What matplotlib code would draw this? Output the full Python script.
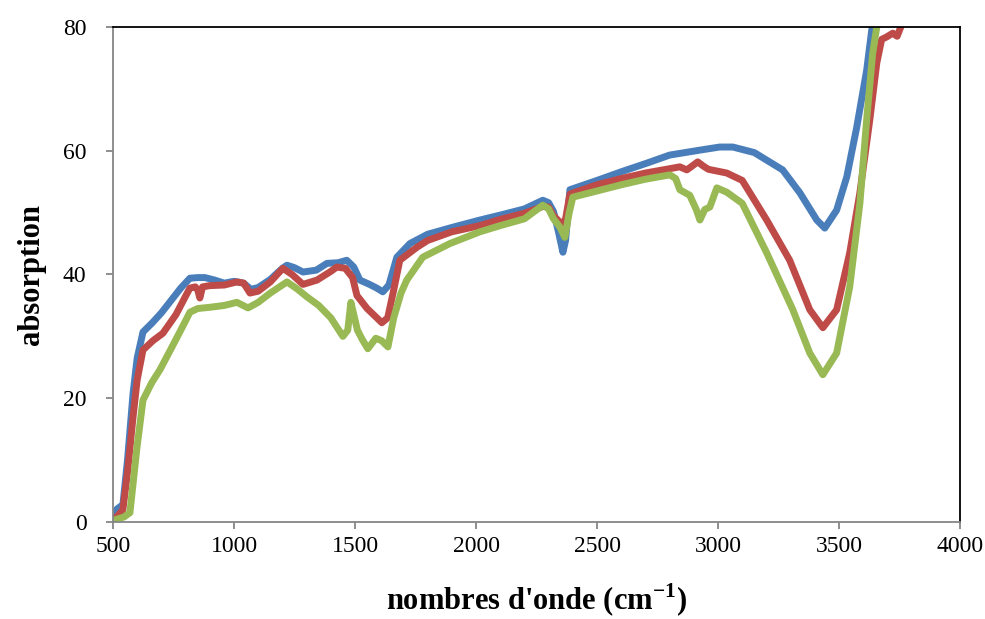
import numpy as np
import matplotlib
matplotlib.use("Agg")
from matplotlib import pyplot as plt

plt.rcParams['font.family'] = ['Liberation Serif', 'DejaVu Serif']
plt.rcParams['mathtext.fontset'] = 'custom'
plt.rcParams['mathtext.rm'] = 'Liberation Serif'
plt.rcParams['mathtext.bf'] = 'Liberation Serif:bold'

# wavenumber (cm-1) / absorption
x_blue = [500, 520, 541, 560, 583, 600, 624, 665, 700, 740, 780, 818, 850, 880, 920,
          960, 1000, 1040, 1070, 1100, 1150, 1200, 1219, 1250, 1285, 1340, 1384, 1430,
          1466, 1495, 1520, 1560, 1590, 1615, 1640, 1673, 1727, 1800, 1900, 2016, 2100,
          2200, 2276, 2300, 2320, 2340, 2359, 2370, 2388, 2500, 2600, 2706, 2800, 2925,
          3007, 3061, 3150, 3267, 3338, 3408, 3441, 3490, 3532, 3573, 3614, 3635, 3650]
y_blue = [1.5, 2.2, 2.8, 10.0, 20.8, 26.5, 30.7, 32.3, 33.8, 35.8, 37.8, 39.4, 39.5, 39.5, 39.1,
          38.6, 38.9, 38.6, 37.6, 37.9, 39.2, 41.0, 41.5, 41.1, 40.4, 40.7, 41.8, 41.9,
          42.3, 41.2, 39.1, 38.4, 37.8, 37.2, 38.3, 42.8, 45.0, 46.5, 47.6, 48.8, 49.6,
          50.6, 52.0, 51.6, 50.2, 47.0, 43.6, 45.5, 53.7, 55.2, 56.6, 58.0, 59.3, 60.1,
          60.6, 60.6, 59.7, 56.9, 53.2, 48.8, 47.5, 50.4, 55.8, 63.8, 73.0, 79.5, 82.0]

x_red = [500, 520, 541, 560, 583, 600, 624, 665, 706, 760, 800, 818, 840, 850, 859,
         870, 900, 960, 1012, 1040, 1066, 1100, 1150, 1202, 1240, 1285, 1343, 1400,
         1425, 1460, 1490, 1508, 1550, 1590, 1611, 1635, 1660, 1685, 1756, 1800, 1900,
         2016, 2100, 2200, 2276, 2300, 2320, 2338, 2355, 2370, 2388, 2500, 2600, 2700,
         2800, 2842, 2871, 2916, 2940, 2960, 3036, 3100, 3201, 3296, 3379, 3433, 3490,
         3544, 3586, 3627, 3656, 3676, 3697, 3722, 3740, 3760]
y_red = [0.5, 1.0, 2.0, 8.0, 17.0, 23.0, 27.8, 29.3, 30.5, 33.5, 36.5, 37.8, 38.0, 37.5, 36.2,
         38.0, 38.2, 38.3, 38.8, 38.6, 37.0, 37.3, 38.8, 41.0, 40.0, 38.4, 39.1, 40.5,
         41.2, 41.0, 39.5, 36.6, 34.5, 33.0, 32.2, 33.0, 37.5, 42.3, 44.4, 45.5, 46.9,
         47.9, 48.9, 49.9, 51.0, 50.9, 49.5, 48.8, 48.0, 49.0, 53.0, 54.5, 55.5, 56.4,
         57.1, 57.4, 56.9, 58.2, 57.5, 57.0, 56.4, 55.2, 48.8, 42.3, 34.3, 31.4, 34.3,
         43.5, 53.2, 65.0, 74.2, 78.0, 78.4, 79.0, 78.5, 80.5]

x_green = [500, 520, 545, 570, 599, 624, 660, 694, 740, 780, 818, 850, 900, 960, 1012,
           1058, 1100, 1150, 1219, 1260, 1301, 1350, 1400, 1450, 1470, 1483, 1495, 1510,
           1530, 1553, 1586, 1610, 1636, 1660, 1690, 1714, 1780, 1892, 2016, 2100, 2200,
           2276, 2300, 2320, 2346, 2367, 2385, 2400, 2500, 2600, 2700, 2801, 2825, 2842,
           2883, 2910, 2925, 2945, 2966, 2995, 3036, 3100, 3201, 3309, 3379, 3433, 3490,
           3544, 3586, 3614, 3639, 3660]
y_green = [0.2, 0.5, 0.8, 1.5, 12.0, 19.7, 22.5, 24.6, 28.0, 31.0, 33.9, 34.5, 34.7, 35.0, 35.5,
           34.6, 35.5, 37.0, 38.8, 37.7, 36.4, 35.0, 33.0, 30.0, 31.0, 35.5, 33.5, 31.0,
           29.5, 28.0, 29.7, 29.3, 28.3, 33.0, 37.0, 39.1, 42.8, 45.0, 46.9, 47.9, 49.0,
           51.2, 50.6, 49.0, 47.7, 46.0, 50.0, 52.5, 53.5, 54.5, 55.4, 56.1, 55.5, 53.7,
           52.8, 50.5, 48.8, 50.5, 50.9, 54.0, 53.3, 51.5, 43.5, 34.3, 27.3, 23.8, 27.3,
           38.0, 51.5, 65.0, 75.8, 81.0]

fig = plt.figure(figsize=(9.85, 6.19), dpi=100)
ax = fig.add_axes([0.1147, 0.1567, 0.86, 0.7997])

ax.plot(x_blue, y_blue, color='#4a7ebb', lw=5, solid_joinstyle='round')
ax.plot(x_red, y_red, color='#be4b48', lw=5, solid_joinstyle='round')
ax.plot(x_green, y_green, color='#98b954', lw=5, solid_joinstyle='round')

ax.set_xlim(500, 4000)
ax.set_ylim(0, 80)
ax.set_xticks(np.arange(500, 4001, 500))
ax.set_yticks(np.arange(0, 81, 20))

for s in ['left', 'bottom']:
    ax.spines[s].set_color('#868686')
    ax.spines[s].set_linewidth(1.3)
for s in ['top', 'right']:
    ax.spines[s].set_color('black')
    ax.spines[s].set_linewidth(1.3)

ax.tick_params(axis='both', direction='out', length=5, width=1.3, color='#868686',
               labelsize=17)
ax.tick_params(axis='y', pad=14)
ax.tick_params(axis='x', pad=5)

ax.set_xlabel(r"nombres d'onde (cm$^{\mathbf{-1}}$)", fontsize=22, fontweight='bold',
              labelpad=18)
ax.set_ylabel("absorption", fontsize=22, fontweight='bold', labelpad=12)

fig.savefig('out.png', dpi=100)
